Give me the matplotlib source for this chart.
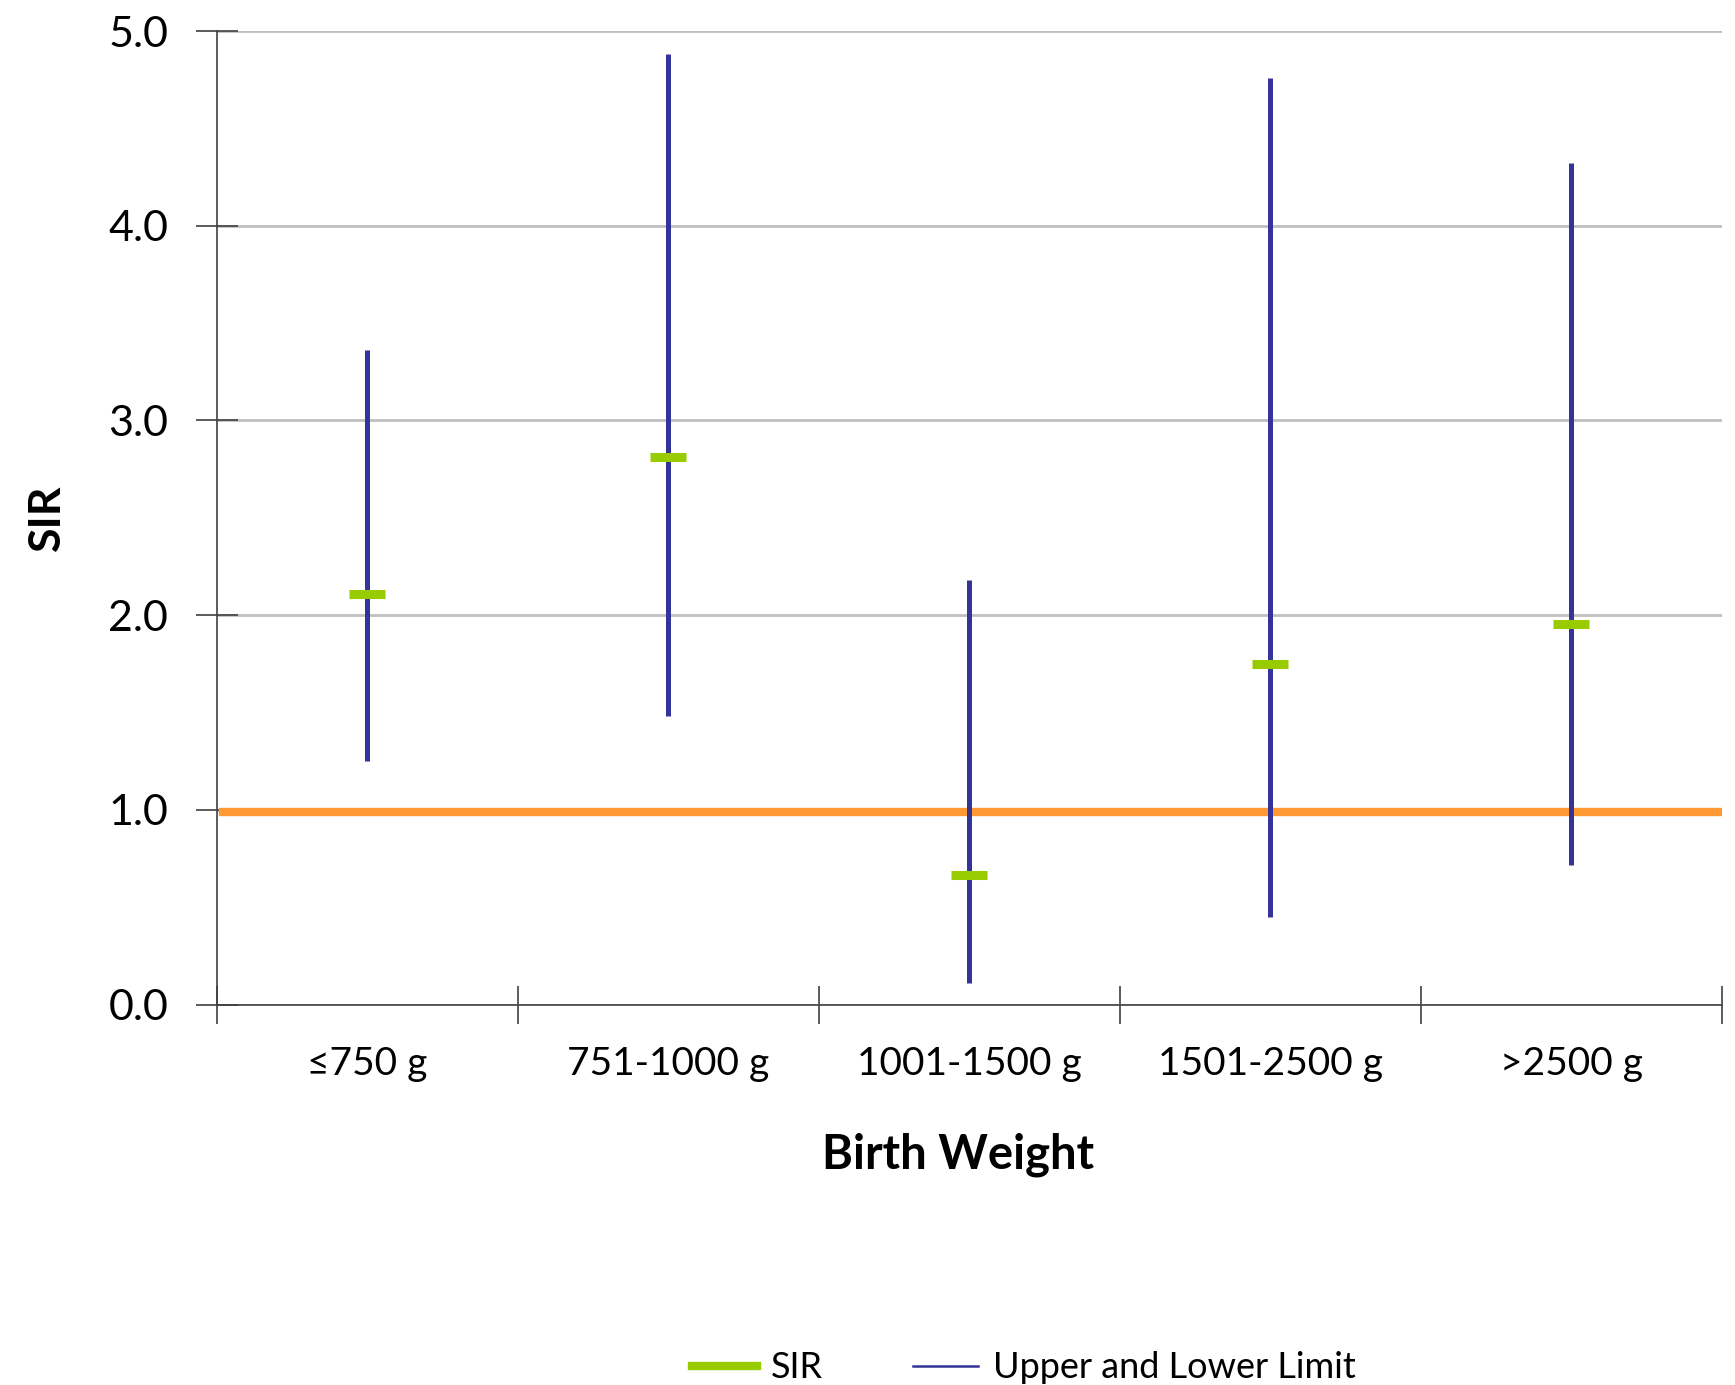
import matplotlib.pyplot as plt
from matplotlib.lines import Line2D
import numpy as np

plt.rcParams['font.family'] = ['Lato', 'DejaVu Sans']

categories = ['≤750 g', '751-1000 g', '1001-1500 g', '1501-2500 g', '>2500 g']
sir = [2.11, 2.81, 0.665, 1.75, 1.955]
upper = [3.36, 4.88, 2.18, 4.76, 4.32]
lower = [1.25, 1.48, 0.11, 0.45, 0.715]
reference = 0.99

blue = '#333399'
green = '#99CC00'
orange = '#FF9933'

fig = plt.figure(figsize=(17.35, 13.85), dpi=100)
ax = fig.add_axes([0.125, 0.2747, 0.8675, 0.7029])

x = np.arange(len(categories))

# grid
ax.set_ylim(0, 5)
ax.set_xlim(-0.5, len(categories) - 0.5)
ax.set_yticks(np.arange(0, 5.01, 1.0))
ax.set_yticklabels([f'{v:.1f}' for v in np.arange(0, 5.01, 1.0)])
ax.yaxis.grid(True, color='#C0C0C0', linewidth=2)
ax.set_axisbelow(True)

# reference line
ax.axhline(reference, xmin=0.004, xmax=0.998, color=orange, linewidth=6, zorder=2)

# confidence limits
ax.vlines(x, lower, upper, color=blue, linewidth=3.6, zorder=3)
# SIR markers
ax.plot(x, sir, linestyle='none', marker='_', markersize=26,
        markeredgewidth=6.5, color=green, zorder=4)

# axes styling
for s in ['top', 'right']:
    ax.spines[s].set_visible(False)
for s in ['left', 'bottom']:
    ax.spines[s].set_color('#404040')
    ax.spines[s].set_linewidth(1.2)

ax.set_xticks(np.arange(-0.5, len(categories), 1.0))
ax.set_xticklabels([])
ax.set_xticks(x, minor=True)
ax.set_xticklabels(categories, minor=True, fontsize=28)
ax.tick_params(axis='x', which='minor', length=0, pad=30)
ax.tick_params(axis='x', which='major', direction='inout', length=28, width=1.2, color='#404040')
ax.tick_params(axis='y', direction='inout', length=30, width=1.2, color='#404040',
               labelsize=31, pad=20)

ax.set_xlabel('Birth Weight', fontsize=34, fontweight='bold')
ax.xaxis.set_label_coords(0.4926, -0.131)
ax.set_ylabel('SIR', fontsize=32, fontweight='bold', labelpad=30)

handles = [Line2D([0], [0], color=green, linewidth=6),
           Line2D([0], [0], color=blue, linewidth=1.8)]
fig.legend(handles, ['SIR', 'Upper and Lower Limit'], loc='lower center',
           bbox_to_anchor=(0.59, -0.023), ncol=2, frameon=False, fontsize=26,
           handlelength=1.8, handletextpad=0.4, columnspacing=2.5)

fig.savefig('out.png', dpi=100)
